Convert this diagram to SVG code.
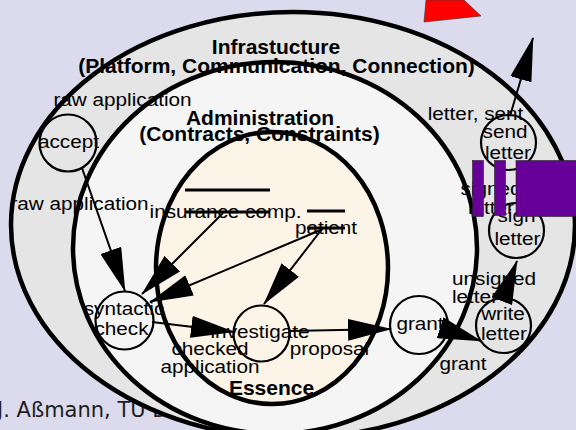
<svg xmlns="http://www.w3.org/2000/svg" width="576" height="430" viewBox="0 0 576 430">
<defs>
<style>
.r{font-family:"Liberation Sans",Arial,sans-serif;font-size:18.5px;fill:#000}
.b{font-family:"Liberation Sans",Arial,sans-serif;font-size:21px;font-weight:bold;fill:#000}
.foot{font-family:"DejaVu Sans",Verdana,sans-serif;font-size:21px;fill:#1e1e1e}
.node{fill:none;stroke:#000;stroke-width:2.2}
.edge{fill:none;stroke:#000;stroke-width:2}
.store{stroke:#000;stroke-width:3}
.outline{fill:none;stroke:#000;stroke-width:4.5}
.purple{fill:#660099;stroke:#222;stroke-width:0.6}
</style>
<marker id="ah" markerUnits="userSpaceOnUse" markerWidth="44" markerHeight="22" viewBox="0 0 44 22" refX="43" refY="11" orient="auto">
<path d="M0,0 L44,11 L0,22 z" fill="#000"/>
</marker>
</defs>
<rect x="0" y="0" width="576" height="430" fill="#dcdbed"/>
<text class="foot" x="-3" y="417">J. Aßmann, TU D</text>
<g id="region-fills">
<ellipse cx="293" cy="225" rx="282" ry="213" fill="#e5e5e5"/>
<ellipse cx="275" cy="248" rx="202" ry="186" fill="#f5f5f5"/>
<ellipse cx="272" cy="268" rx="116" ry="136" fill="#fcf5e7"/>
</g>
<polygon points="424,22 426,0 464,0 481,16" fill="#ff0000" stroke="#333" stroke-width="0.6"/>
<g id="region-labels">
<text class="b" x="276" y="54" text-anchor="middle">Infrastucture</text>
<text class="b" x="276.5" y="72.5" text-anchor="middle">(Platform, Communication, Connection)</text>
<text class="b" x="260" y="125" text-anchor="middle">Administration</text>
<text class="b" x="259.5" y="141" text-anchor="middle">(Contracts, Constraints)</text>
<text class="b" x="271.5" y="395" text-anchor="middle">Essence</text>
</g>
<g id="region-outlines">
<ellipse class="outline" cx="293" cy="225" rx="282" ry="213"/>
<ellipse class="outline" cx="275" cy="248" rx="202" ry="186"/>
<ellipse class="outline" cx="272" cy="268" rx="116" ry="136"/>
</g>
<g id="edge-labels">
<text class="r" transform="translate(122.5,106) scale(1.12,1)" text-anchor="middle">raw application</text>
<text class="r" transform="translate(79.5,210) scale(1.12,1)" text-anchor="middle">raw application</text>
<text class="r" transform="translate(210,355) scale(1.12,1)" text-anchor="middle">checked</text>
<text class="r" transform="translate(210,373) scale(1.12,1)" text-anchor="middle">application</text>
<text class="r" transform="translate(329.5,355) scale(1.12,1)" text-anchor="middle">proposal</text>
<text class="r" transform="translate(463,370) scale(1.12,1)" text-anchor="middle">grant</text>
<text class="r" transform="translate(452,285) scale(1.12,1)">unsigned</text>
<text class="r" transform="translate(452,303) scale(1.12,1)">letter</text>
<text class="r" transform="translate(491,195) scale(1.12,1)" text-anchor="middle">signed</text>
<text class="r" transform="translate(491,214) scale(1.12,1)" text-anchor="middle">letter</text>
<text class="r" transform="translate(475.5,120) scale(1.12,1)" text-anchor="middle">letter, sent</text>
</g>
<g id="store-insurance">
<line class="store" x1="185" y1="190" x2="270" y2="190"/>
<line class="store" x1="185" y1="212" x2="270" y2="212"/>
<text class="r" transform="translate(225.5,218) scale(1.12,1)" text-anchor="middle">insurance comp.</text>
</g>
<g id="store-patient">
<line class="store" x1="307" y1="211" x2="345" y2="211"/>
<line class="store" x1="307" y1="228" x2="345" y2="228"/>
<text class="r" transform="translate(326,234) scale(1.12,1)" text-anchor="middle">patient</text>
</g>
<g id="node-accept">
<circle class="node" cx="68" cy="143" r="28.5"/>
<text class="r" transform="translate(68.5,148) scale(1.12,1)" text-anchor="middle">accept</text>
</g>
<g id="node-syntactic-check">
<circle class="node" cx="124.5" cy="320.5" r="29"/>
<text class="r" transform="translate(124,315) scale(1.12,1)" text-anchor="middle">syntactic</text>
<text class="r" transform="translate(121.5,335) scale(1.12,1)" text-anchor="middle">check</text>
</g>
<g id="node-investigate">
<circle class="node" cx="261.5" cy="333.5" r="28"/>
<text class="r" transform="translate(260,338) scale(1.12,1)" text-anchor="middle">investigate</text>
</g>
<g id="node-grant">
<circle class="node" cx="419" cy="325" r="29"/>
<text class="r" transform="translate(420,330) scale(1.12,1)" text-anchor="middle">grant</text>
</g>
<g id="node-write-letter">
<circle class="node" cx="503.5" cy="325.5" r="27.5"/>
<text class="r" transform="translate(503,320) scale(1.12,1)" text-anchor="middle">write</text>
<text class="r" transform="translate(504,340) scale(1.12,1)" text-anchor="middle">letter</text>
</g>
<g id="node-sign-letter">
<circle class="node" cx="516.5" cy="230.5" r="27.5"/>
<text class="r" transform="translate(516.5,222) scale(1.12,1)" text-anchor="middle">sign</text>
<text class="r" transform="translate(517.5,245) scale(1.12,1)" text-anchor="middle">letter</text>
</g>
<g id="node-send-letter">
<circle class="node" cx="508.5" cy="142.5" r="27.5"/>
<text class="r" transform="translate(505,138) scale(1.12,1)" text-anchor="middle">send</text>
<text class="r" transform="translate(508,159) scale(1.12,1)" text-anchor="middle">letter</text>
</g>
<g id="connectors">
<line class="edge" x1="82" y1="168" x2="125" y2="291" marker-end="url(#ah)"/>
<line class="edge" x1="223" y1="213" x2="142" y2="294" marker-end="url(#ah)"/>
<line class="edge" x1="323" y1="229" x2="150" y2="302" marker-end="url(#ah)"/>
<line class="edge" x1="322" y1="229" x2="264" y2="304" marker-end="url(#ah)"/>
<line class="edge" x1="152" y1="322" x2="234" y2="332" marker-end="url(#ah)"/>
<line class="edge" x1="289" y1="331" x2="391" y2="329" marker-end="url(#ah)"/>
<line class="edge" x1="447" y1="330" x2="481" y2="341" marker-end="url(#ah)"/>
<line class="edge" x1="503" y1="298" x2="517" y2="261" marker-end="url(#ah)"/>
<line class="edge" x1="510" y1="116" x2="533" y2="38" marker-end="url(#ah)"/>
</g>
<g id="overlay">
<rect class="purple" x="472.5" y="160.5" width="11" height="56"/>
<rect class="purple" x="494.5" y="160.5" width="11" height="55"/>
<rect class="purple" x="516" y="160.5" width="62" height="56"/>
</g>
</svg>
